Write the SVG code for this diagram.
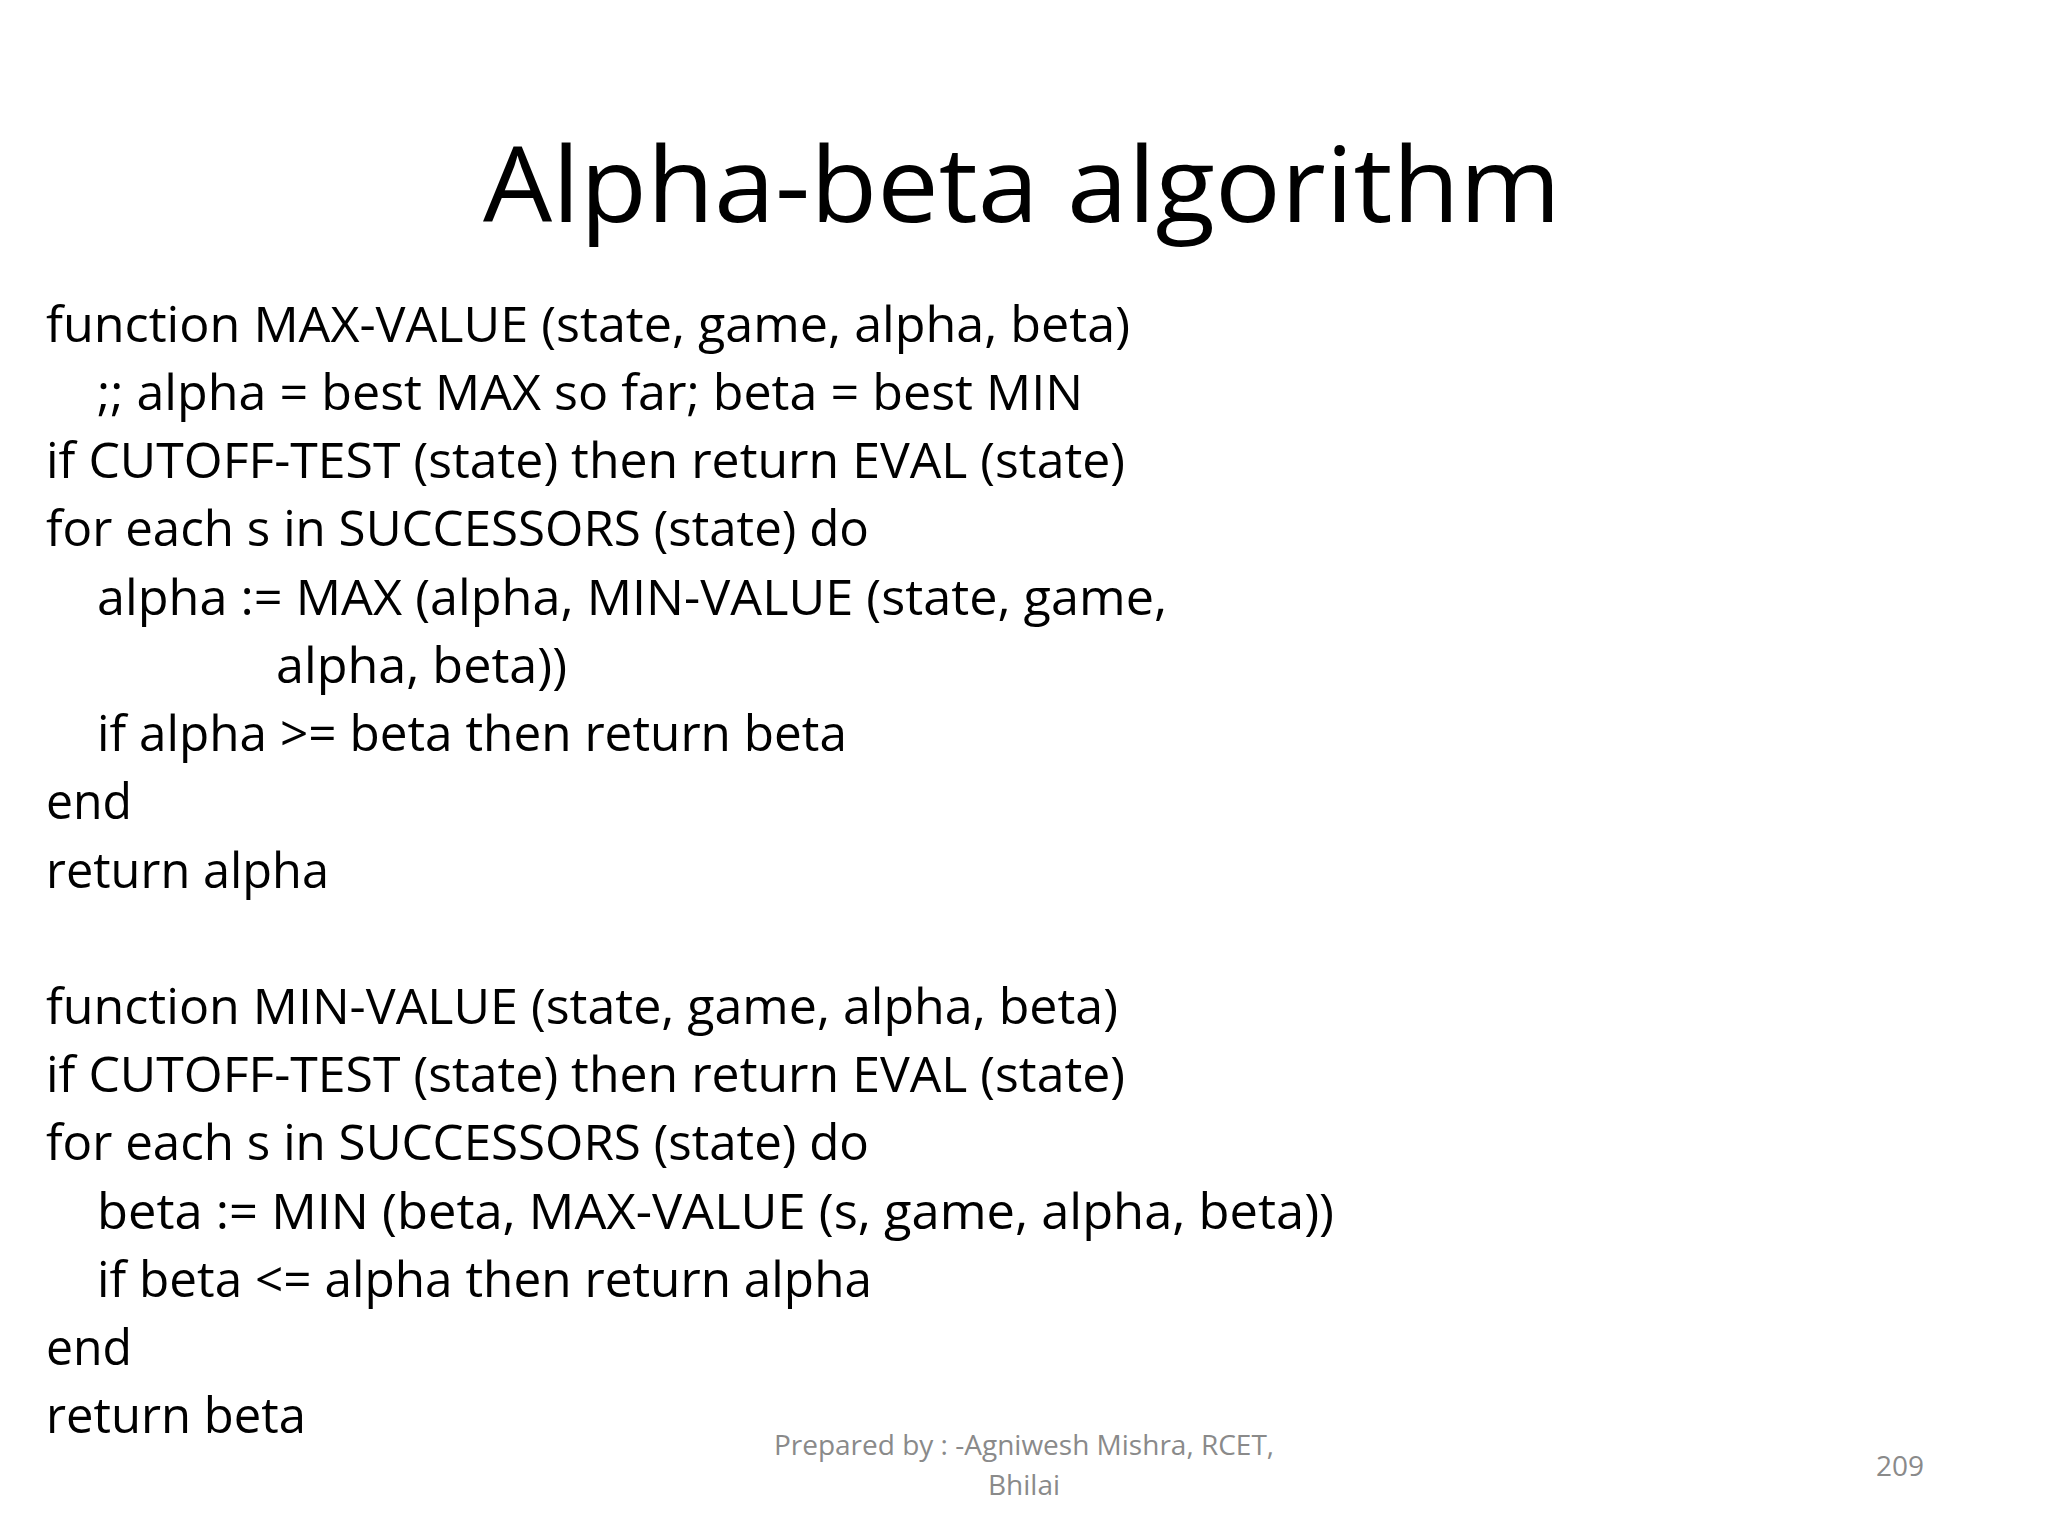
<svg xmlns="http://www.w3.org/2000/svg" width="2048" height="1536" viewBox="0 0 2048 1536">
<style>
.t{font-family:"Open Sans","Liberation Sans",sans-serif;fill:#000}
.b{font-family:"Open Sans","Liberation Sans",sans-serif;font-size:50px;fill:#000}
.f{font-family:"Open Sans","Liberation Sans",sans-serif;font-size:28px;fill:#8a8a8a}
</style>
<rect width="2048" height="1536" fill="#fff"/>
<text class="t" x="483" y="222" font-size="104" textLength="1078" lengthAdjust="spacingAndGlyphs">Alpha-beta algorithm</text>
<g id="code">
<text class="b" x="46" y="342" textLength="1084" lengthAdjust="spacingAndGlyphs">function MAX-VALUE (state, game, alpha, beta)</text>
<text class="b" x="97" y="410" textLength="986" lengthAdjust="spacingAndGlyphs">;; alpha = best MAX so far; beta = best MIN</text>
<text class="b" x="46" y="478" textLength="1079" lengthAdjust="spacingAndGlyphs">if CUTOFF-TEST (state) then return EVAL (state)</text>
<text class="b" x="46" y="546" textLength="823" lengthAdjust="spacingAndGlyphs">for each s in SUCCESSORS (state) do</text>
<text class="b" x="97" y="615" textLength="1070" lengthAdjust="spacingAndGlyphs">alpha := MAX (alpha, MIN-VALUE (state, game,</text>
<text class="b" x="276" y="683" textLength="291" lengthAdjust="spacingAndGlyphs">alpha, beta))</text>
<text class="b" x="97" y="751" textLength="750" lengthAdjust="spacingAndGlyphs">if alpha &gt;= beta then return beta</text>
<text class="b" x="46" y="819" textLength="86" lengthAdjust="spacingAndGlyphs">end</text>
<text class="b" x="46" y="888" textLength="283" lengthAdjust="spacingAndGlyphs">return alpha</text>
<text class="b" x="46" y="1024" textLength="1072" lengthAdjust="spacingAndGlyphs">function MIN-VALUE (state, game, alpha, beta)</text>
<text class="b" x="46" y="1092" textLength="1079" lengthAdjust="spacingAndGlyphs">if CUTOFF-TEST (state) then return EVAL (state)</text>
<text class="b" x="46" y="1160" textLength="823" lengthAdjust="spacingAndGlyphs">for each s in SUCCESSORS (state) do</text>
<text class="b" x="97" y="1229" textLength="1237" lengthAdjust="spacingAndGlyphs">beta := MIN (beta, MAX-VALUE (s, game, alpha, beta))</text>
<text class="b" x="97" y="1297" textLength="775" lengthAdjust="spacingAndGlyphs">if beta &lt;= alpha then return alpha</text>
<text class="b" x="46" y="1365" textLength="86" lengthAdjust="spacingAndGlyphs">end</text>
<text class="b" x="46" y="1433" textLength="260" lengthAdjust="spacingAndGlyphs">return beta</text>
</g>
<g id="footer">
<text class="f" x="1024" y="1455" text-anchor="middle">Prepared by : -Agniwesh Mishra, RCET,</text>
<text class="f" x="1024" y="1495" text-anchor="middle">Bhilai</text>
<text class="f" x="1900" y="1476" text-anchor="middle">209</text>
</g>
</svg>
